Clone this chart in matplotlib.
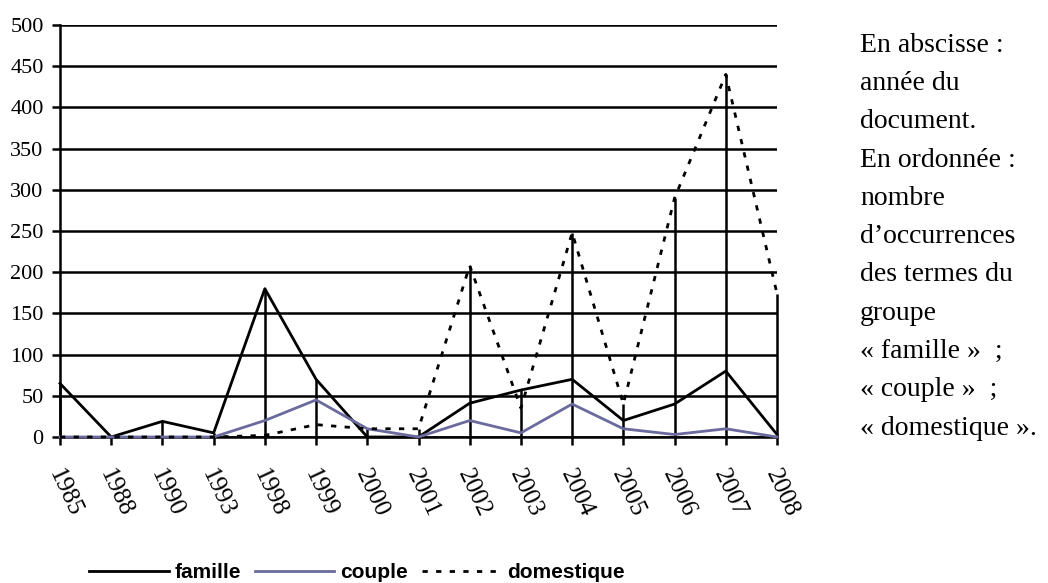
import numpy as np
import matplotlib
matplotlib.use("Agg")
import matplotlib.pyplot as plt
import matplotlib.transforms as mtransforms

years = ["1985", "1988", "1990", "1993", "1998", "1999", "2000", "2001",
         "2002", "2003", "2004", "2005", "2006", "2007", "2008"]
famille = [65, 0, 19, 5, 180, 70, 0, 0, 41, 57, 70, 20, 40, 80, 3]
couple = [0, 0, 0, 0, 20, 45, 10, 0, 20, 5, 40, 10, 3, 10, 0]
domestique = [0, 0, 0, 0, 2, 15, 10, 10, 208, 35, 248, 40, 290, 440, 174]

note_lines = ["En abscisse :", "année du", "document.", "En ordonnée :", "nombre",
              "d\u2019occurrences", "des termes du", "groupe",
              "\u00ab famille \u00bb  ;", "\u00ab couple \u00bb  ;", "\u00ab domestique \u00bb."]

serif = "Liberation Serif"
sans = "Liberation Sans"
couple_color = "#6a6a9e"

fig = plt.figure(figsize=(10.48, 5.83), dpi=100)
ax = fig.add_axes([60 / 1048, 1 - 437 / 583, 717 / 1048, 412 / 583])

x = np.arange(len(years))

# horizontal gridlines
ax.set_ylim(0, 500)
ax.set_xlim(0, len(years) - 1)
ax.set_yticks(np.arange(0, 501, 50))
ax.yaxis.grid(True, color="black", linewidth=1.8)
ax.set_axisbelow(True)

# drop lines from the highest series down to the axis
tops = np.max([famille, couple, domestique], axis=0)
ax.vlines(x, 0, tops, color="black", linewidth=1.8, clip_on=False, zorder=2)

ax.plot(x, famille, color="black", linewidth=2.0, label="famille", clip_on=False, zorder=3)
ax.plot(x, couple, color=couple_color, linewidth=2.0, label="couple", clip_on=False, zorder=3)
ax.plot(x, domestique, color="black", linewidth=2.0, linestyle=(0, (1.9, 3.0)),
        label="domestique", clip_on=False, zorder=4)

for side in ["top", "right"]:
    ax.spines[side].set_visible(False)
for side in ["left", "bottom"]:
    ax.spines[side].set_linewidth(1.8)
    ax.spines[side].set_color("black")

ax.set_xticks(x)
ax.set_xticklabels(years, rotation=-65, rotation_mode="anchor", ha="left", va="center",
                   fontfamily=serif, fontsize=18)
ax.tick_params(axis="x", direction="out", length=5.8, width=1.8, pad=18.5)
ax.tick_params(axis="y", direction="out", length=5.8, width=1.8, pad=6)
for lab in ax.get_yticklabels():
    lab.set_fontfamily(serif)
    lab.set_fontsize(16)

shift = mtransforms.ScaledTranslation(-6 / 100, 0, fig.dpi_scale_trans)
for lab in ax.get_xticklabels():
    lab.set_transform(lab.get_transform() + shift)

leg = fig.legend(loc="center", bbox_to_anchor=(357 / 1048, 1 - 573 / 583), ncol=3,
                 frameon=False, handlelength=3.8, handletextpad=0.3, columnspacing=0.65,
                 prop={"family": sans, "weight": "bold", "size": 15})

# note on the right
for i, line in enumerate(note_lines):
    fig.text(860 / 1048, 1 - (51.7 + i * 38.3) / 583, line, fontfamily=serif,
             fontsize=20, ha="left", va="baseline")

fig.savefig("out.png", dpi=100)
